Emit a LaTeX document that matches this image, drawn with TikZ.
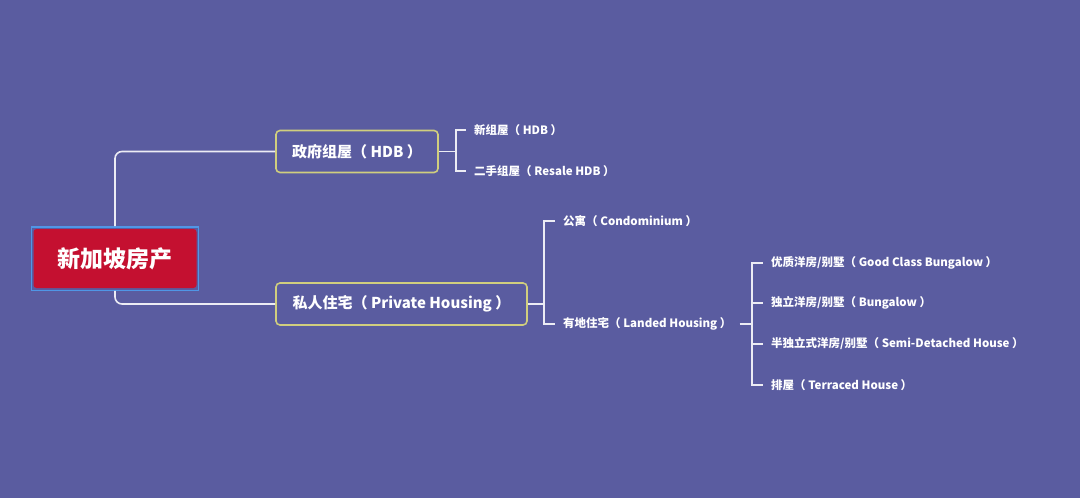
\documentclass[tikz,border=0pt]{standalone}
\usepackage{fontspec}
\newfontfamily\cjk{Noto Sans CJK SC}
\usepackage{tikz}
\usetikzlibrary{positioning,fit,calc}
\definecolor{bgpurple}{RGB}{90,92,160}
\definecolor{rootred}{RGB}{196,16,48}
\definecolor{selblue}{RGB}{80,150,230}
\definecolor{topicyel}{RGB}{208,206,126}
\definecolor{linewhite}{RGB}{236,236,244}

\begin{document}
\begin{tikzpicture}[
  x=1pt, y=-1pt,
  link/.style={draw=linewhite, line width=1.6pt},
  curvelink/.style={link, rounded corners=7pt},
  rootbox/.style={fill=rootred, text=white, rounded corners=3pt, minimum width=163pt, minimum height=59pt, inner sep=0pt, font=\cjk\bfseries\fontsize{23}{26}\selectfont},
  selbox/.style={draw=selblue, line width=1.4pt, inner sep=2pt},
  topic/.style={draw=topicyel, line width=1.6pt, rounded corners=4pt, text=white, minimum height=42pt, inner sep=0pt, font=\cjk\bfseries\fontsize{15}{18}\selectfont},
  sub/.style={text=white, anchor=west, inner xsep=8pt, inner ysep=2pt, font=\cjk\bfseries\fontsize{11.5}{14}\selectfont},
]
\def\xa{466}\def\xb{555}\def\xc{763}

\path[fill=bgpurple, use as bounding box] (0,0) rectangle (1080,498);

% ---------- root ----------
\node[rootbox] (root) at (115,258.5) {新加坡房产};
\node[selbox, fit=(root)] (rootsel) {};

% ---------- main topics ----------
\node[topic, minimum width=162pt] (hdb) at (357,151.5) {政府组屋（ HDB ）};
\node[topic, minimum width=251pt] (priv) at (401.5,304) {私人住宅（ Private Housing ）};
\draw[curvelink] (rootsel.north) |- (hdb.west);
\draw[curvelink] (rootsel.south) |- (priv.west);

% ---------- HDB ----------
\node[sub] (hnew) at (\xa,130) {新组屋（ HDB ）};
\node[sub] (hresale) at (\xa,171) {二手组屋（ Resale HDB ）};
\coordinate (hj) at ($(hdb.east)+(17,0)$);
\draw[link] (hdb.east) -- (hj);
\foreach \n in {hnew,hresale}{ \draw[link] (hj) |- (\n.west); }

% ---------- private housing ----------
\node[sub] (condo) at (\xb,221) {公寓（ Condominium ）};
\node[sub] (landed) at (\xb,324) {有地住宅（ Landed Housing ）};
\coordinate (pj) at ($(priv.east)+(16,0)$);
\draw[link] (priv.east) -- (pj);
\foreach \n in {condo,landed}{ \draw[link] (pj) |- (\n.west); }

% ---------- landed housing ----------
\node[sub] (gcb) at (\xc,263) {优质洋房/别墅（ Good Class Bungalow ）};
\node[sub] (bung) at (\xc,303) {独立洋房/别墅（ Bungalow ）};
\node[sub] (semi) at (\xc,344) {半独立式洋房/别墅（ Semi-Detached House ）};
\node[sub] (terr) at (\xc,385) {排屋（ Terraced House ）};
\coordinate (lj) at (752,324);
\draw[link] (landed.east) -- (lj);
\foreach \n in {gcb,bung,semi,terr}{ \draw[link] (lj) |- (\n.west); }
\end{tikzpicture}
\end{document}
